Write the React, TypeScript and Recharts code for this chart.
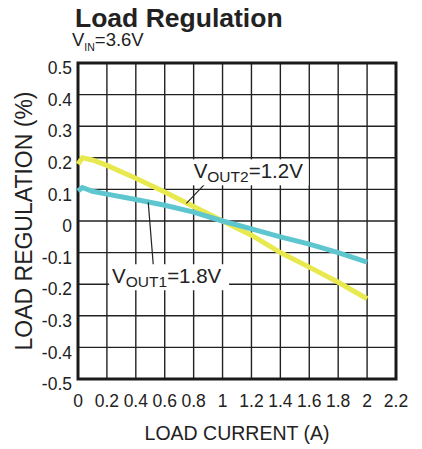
import { LineChart, Line, XAxis, YAxis, CartesianGrid, ReferenceArea, ReferenceLine, ReferenceDot } from 'recharts';

const current = [0, 0.03, 0.1, 0.2, 0.4, 0.6, 0.8, 1.0, 1.2, 1.4, 1.6, 1.8, 2.0];
const vout2 = [0.18, 0.2, 0.193, 0.176, 0.135, 0.092, 0.046, 0, -0.045, -0.1, -0.146, -0.194, -0.246];
const vout1 = [0.095, 0.106, 0.094, 0.085, 0.068, 0.05, 0.028, 0, -0.025, -0.05, -0.073, -0.1, -0.13];

const xTicks = [0, 0.2, 0.4, 0.6, 0.8, 1, 1.2, 1.4, 1.6, 1.8, 2, 2.2];
const yTicks = [-0.5, -0.4, -0.3, -0.2, -0.1, 0, 0.1, 0.2, 0.3, 0.4, 0.5];

const data = current.map((x, i) => ({ x, v2: vout2[i], v1: vout1[i] }));

const FONT = '"Liberation Sans", Arial, sans-serif';

// text boxes with subscript, drawn at a data anchor (left edge / baseline)
function vLabel(sub: string, rest: string, w: number) {
  return (p: any) => (
    <g>
      <rect x={p.cx - 3} y={p.cy - 19} width={w} height={26} fill="#fff" />
      <text x={p.cx} y={p.cy} fontFamily={FONT} fontSize={20.5} fill="#222">
        V<tspan fontSize={15.5} dy={4}>{sub}</tspan>
        <tspan fontSize={20.5} dy={-4}>{rest}</tspan>
      </text>
    </g>
  );
}

export default function App() {
  return (
    <div style={{ position: 'absolute', left: 0, top: 0, width: 422, height: 449, background: '#fff', fontFamily: FONT }}>
      <LineChart width={422} height={449} data={data} margin={{ top: 63, right: 26, bottom: 0, left: 0 }}>
        <CartesianGrid stroke="#222" strokeWidth={1.4} />
        <XAxis
          dataKey="x"
          type="number"
          domain={[0, 2.2]}
          ticks={xTicks}
          tickFormatter={(v) => String(v)}
          axisLine={false}
          tickLine={false}
          tickMargin={10}
          height={70}
          tick={{ fill: '#222', fontSize: 17.5, fontFamily: FONT }}
          label={{ value: 'LOAD CURRENT (A)', position: 'insideBottom', offset: 9, fill: '#222', fontSize: 19.5, fontFamily: FONT }}
        />
        <YAxis
          type="number"
          domain={[-0.5, 0.5]}
          ticks={yTicks}
          tickFormatter={(v) => String(v)}
          axisLine={false}
          tickLine={false}
          tickMargin={0}
          width={78}
          tick={{ fill: '#222', fontSize: 17.5, fontFamily: FONT, dy: 5 }}
          label={{ value: 'LOAD REGULATION (%)', angle: -90, position: 'insideLeft', offset: 24, fill: '#222', fontSize: 23, fontFamily: FONT, style: { textAnchor: 'middle' } }}
        />
        <ReferenceArea x1={0} x2={2.2} y1={-0.5} y2={0.5} fill="none" fillOpacity={0} stroke="#1a1a1a" strokeWidth={3} />
        <Line type="linear" dataKey="v2" stroke="#e8e94f" strokeWidth={5} dot={false} isAnimationActive={false} />
        <Line type="linear" dataKey="v1" stroke="#5ec6cf" strokeWidth={5} dot={false} isAnimationActive={false} />
        <ReferenceLine segment={[{ x: 0.882, y: 0.119 }, { x: 0.75, y: 0.056 }]} stroke="#222" strokeWidth={1.2} />
        <ReferenceLine segment={[{ x: 0.486, y: 0.059 }, { x: 0.521, y: -0.14 }]} stroke="#222" strokeWidth={1.2} />
        <ReferenceDot x={0.8} y={0.135} r={0} shape={vLabel('OUT2', '=1.2V', 118)} />
        <ReferenceDot x={0.236} y={-0.197} r={0} shape={vLabel('OUT1', '=1.8V', 120)} />
      </LineChart>
      <svg width={422} height={60} style={{ position: 'absolute', left: 0, top: 0, pointerEvents: 'none' }}>
        <text x={75} y={27} fontFamily={FONT} fontSize={26.5} fontWeight="bold" fill="#222">Load Regulation</text>
        <text x={72} y={46} fontFamily={FONT} fontSize={18.5} fill="#222">
          V<tspan fontSize={10.5} dy={5}>IN</tspan>
          <tspan fontSize={18.5} dy={-5}>=3.6V</tspan>
        </text>
      </svg>
    </div>
  );
}
